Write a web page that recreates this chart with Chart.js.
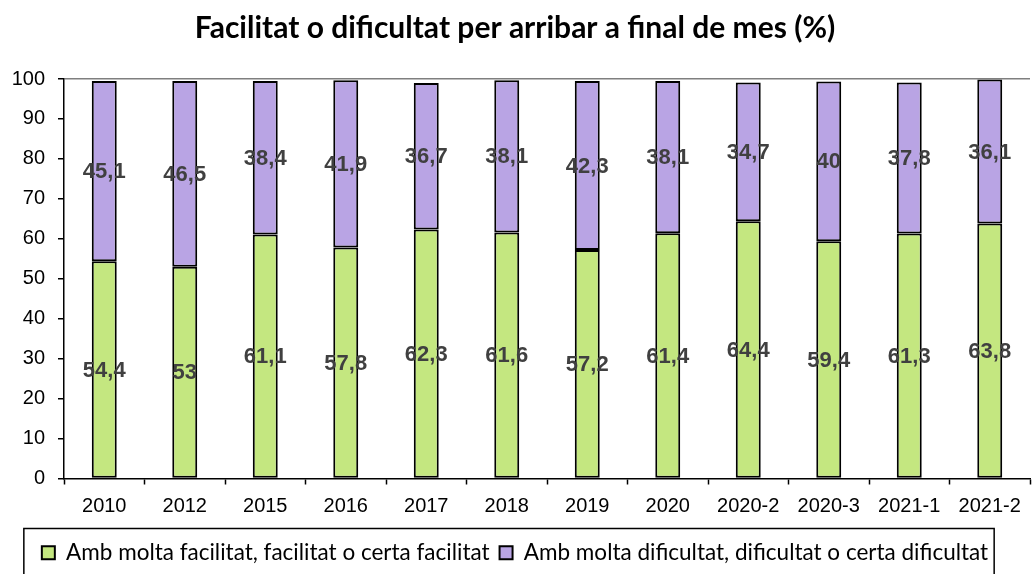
<!DOCTYPE html>
<html>
<head>
<meta charset="utf-8">
<script src="https://cdn.jsdelivr.net/npm/chart.js@4/dist/chart.umd.min.js"></script>
<style>
  html, body { margin: 0; padding: 0; background: #fff; }
  #wrap { width: 1032px; height: 574px; position: relative; }
</style>
</head>
<body>
<div id="wrap"><canvas id="c" width="1032" height="574"></canvas></div>
<script>
const categories = ['2010','2012','2015','2016','2017','2018','2019','2020','2020-2','2020-3','2021-1','2021-2'];
const facilitat = [54.4, 53, 61.1, 57.8, 62.3, 61.6, 57.2, 61.4, 64.4, 59.4, 61.3, 63.8];
const dificultat = [45.1, 46.5, 38.4, 41.9, 36.7, 38.1, 42.3, 38.1, 34.7, 40, 37.8, 36.1];
const yTicks = [0,10,20,30,40,50,60,70,80,90,100];
const seriesNames = ['Amb molta facilitat, facilitat o certa facilitat', 'Amb molta dificultat, dificultat o certa dificultat'];
const titleText = 'Facilitat o dificultat per arribar a final de mes (%)';

const fmt = v => String(v).replace('.', ',');

const labelPlugin = {
  id: 'barLabels',
  afterDatasetsDraw(chart) {
    const ctx = chart.ctx;
    ctx.save();
    ctx.font = 'bold 22px "Liberation Sans", Arial, sans-serif';
    ctx.fillStyle = '#404040';
    ctx.textAlign = 'center';
    ctx.textBaseline = 'middle';
    chart.data.datasets.forEach((ds, i) => {
      const meta = chart.getDatasetMeta(i);
      meta.data.forEach((bar, j) => {
        const p = bar.getProps(['x', 'y', 'base'], true);
        ctx.fillText(fmt(ds.data[j]), p.x, (p.y + p.base) / 2 + 1);
      });
    });
    ctx.restore();
  }
};

const legendFrame = {
  id: 'legendFrame',
  afterDraw(chart) {
    const boxes = chart.legend && chart.legend.legendHitBoxes;
    if (!boxes || !boxes.length) return;
    const minX = Math.min(...boxes.map(b => b.left));
    const maxX = Math.max(...boxes.map(b => b.left + b.width));
    const top = Math.min(...boxes.map(b => b.top));
    const ctx = chart.ctx;
    ctx.save();
    ctx.strokeStyle = '#000';
    ctx.lineWidth = 1.5;
    ctx.strokeRect(minX - 18, top - 13, (maxX - minX) + 24, 60);
    ctx.restore();
  }
};

new Chart(document.getElementById('c'), {
  type: 'bar',
  data: {
    labels: categories,
    datasets: [
      { label: seriesNames[0], data: facilitat, backgroundColor: '#C4E780', borderColor: '#000', borderWidth: 2, borderSkipped: false },
      { label: seriesNames[1], data: dificultat, backgroundColor: '#B9A4E4', borderColor: '#000', borderWidth: 2, borderSkipped: false }
    ]
  },
  options: {
    responsive: false,
    animation: false,
    devicePixelRatio: 1,
    layout: { padding: { left: 0, right: 2, top: 0, bottom: 0 } },
    datasets: { bar: { categoryPercentage: 1, barPercentage: 0.31 } },
    plugins: {
      title: {
        display: true,
        text: titleText,
        color: '#000',
        font: { family: 'Lato, "Noto Sans", sans-serif', size: 30, weight: 'bold' },
        padding: { top: 10, bottom: 33 }
      },
      legend: {
        position: 'bottom',
        labels: {
          color: '#000',
          font: { family: 'Lato, "Noto Sans", sans-serif', size: 22.5 },
          boxWidth: 13, boxHeight: 13,
          padding: 10,
          generateLabels(chart) {
            return chart.data.datasets.map((ds, i) => ({
              text: ds.label, fillStyle: ds.backgroundColor, strokeStyle: '#000', lineWidth: 2, datasetIndex: i, hidden: false
            }));
          }
        }
      },
      tooltip: { enabled: false }
    },
    scales: {
      x: {
        stacked: true,
        afterFit(s) { s.height = 53; },
        border: { display: true, color: '#000', width: 1.5 },
        grid: { offset: true, drawOnChartArea: false, drawTicks: true, tickLength: 6, tickColor: '#000', tickWidth: 1.5 },
        ticks: { color: '#000', padding: 10, font: { family: '"Liberation Sans", Arial, sans-serif', size: 20 }, maxRotation: 0, autoSkip: false }
      },
      y: {
        stacked: true,
        min: 0, max: 100,
        afterFit(s) { s.width = 64; },
        afterBuildTicks(s) { s.ticks = yTicks.map(v => ({ value: v })); },
        border: { display: true, color: '#000', width: 1.5 },
        grid: {
          drawOnChartArea: true, drawTicks: true, tickLength: 6, tickWidth: 1.5,
          tickColor: '#000',
          color: c => (c.tick && c.tick.value === 100 ? '#7f7f7f' : 'rgba(0,0,0,0)'),
          lineWidth: 1.5
        },
        ticks: { color: '#000', padding: 13, font: { family: '"Liberation Sans", Arial, sans-serif', size: 20 } }
      }
    }
  },
  plugins: [labelPlugin, legendFrame]
});
</script>
</body>
</html>
